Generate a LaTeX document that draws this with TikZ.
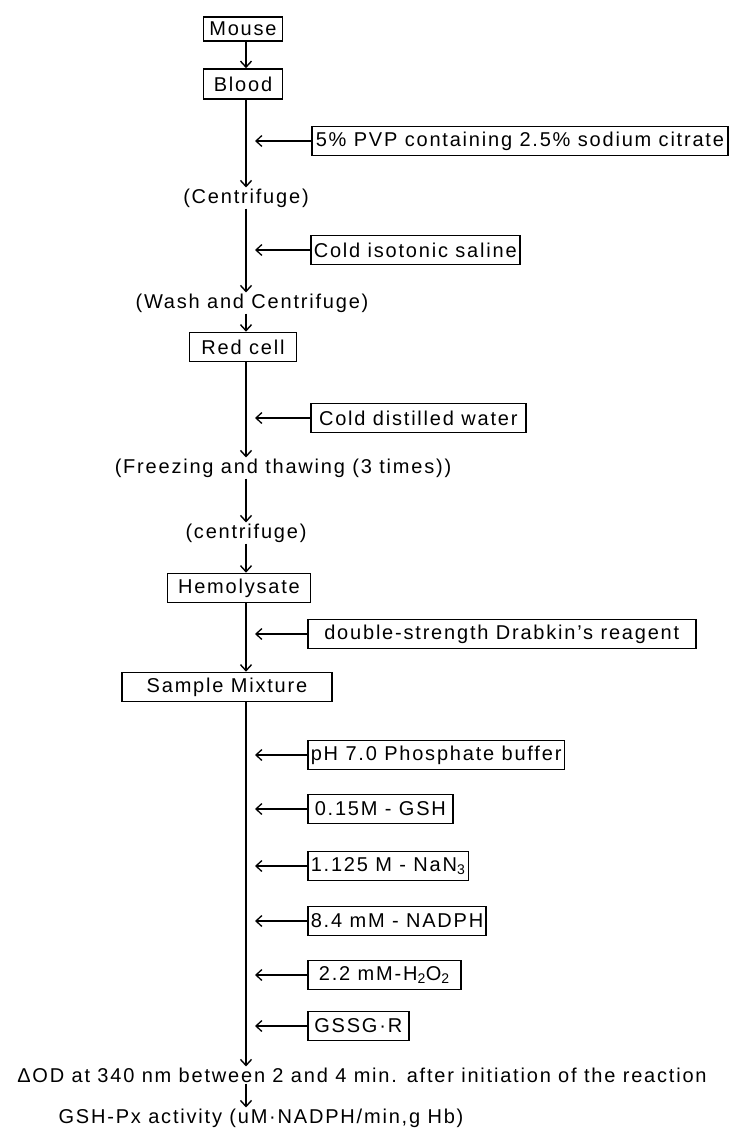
\documentclass[tikz,border=0pt]{standalone}
\usepackage{fontspec}
\setmainfont{Liberation Sans}[LetterSpace=9]
\usetikzlibrary{arrows.meta}
\tikzset{
  >={Straight Barb[length=6pt,width=11pt]},
  stage/.style={draw,line width=1.6pt,minimum height=29pt,inner xsep=5pt,inner ysep=0pt},
  reagent/.style={stage,anchor=west},
  treat/.style={inner sep=1pt},
  flow/.style={->,line width=1.4pt},
  feed/.style={->,line width=1.3pt},
}

\begin{document}
\begin{tikzpicture}[x=1pt,y=-1pt,font=\fontsize{20}{24}\selectfont]
    \useasboundingbox (0,0) rectangle (733,1137);
    \coordinate (spine) at (246,0);
    \coordinate (tip) at (255,0);

    % ------- main column -------
    \node[stage,minimum width=79pt,minimum height=24pt] (mouse) at (243,29) {Mouse};
    \node[stage,minimum width=79pt,minimum height=30pt] (blood) at (243,84) {Blood};
    \node[treat] (cent1) at (246,198) {(Centrifuge)};
    \node[treat] (wash) at (252,303) {(Wash and Centrifuge)};
    \node[stage,minimum width=107pt] (redcell) at (243,347) {Red cell};
    \node[treat] (freeze) at (283,468) {(Freezing and thawing (3 times))};
    \node[treat] (cent2) at (246,533) {(centrifuge)};
    \node[stage,minimum width=143pt] (hemo) at (239,588) {Hemolysate};
    \node[stage,minimum width=210pt] (sample) at (227,687) {Sample Mixture};
    \node[treat] (dod) at (362,1075) {ΔOD at 340 nm between 2 and 4 min. after initiation of the reaction};
    \node[treat] (activity) at (261,1118) {GSH-Px activity (uM·NADPH/min,g Hb)};

    % ------- side reagents -------
    \node[reagent,inner xsep=4pt] (pvp) at (311,141) {5\% PVP containing 2.5\% sodium citrate};
    \node[reagent,inner xsep=3pt,minimum width=208pt] (saline) at (310,250) {Cold isotonic saline};
    \node[reagent,minimum width=215pt] (water) at (310,418) {Cold distilled water};
    \node[reagent,minimum width=388pt] (drabkin) at (307,634) {double-strength Drabkin's reagent};
    \foreach \y/\w/\nm/\txt in {755/253/buffer/{pH 7.0 Phosphate buffer},
                                809/145/gsh/{0.15M - GSH},
                                866/151/azide/{1.125 M - NaN\textsubscript{3}},
                                921/168/nadph/{8.4 mM - NADPH},
                                975/153/peroxide/{2.2 mM-H\textsubscript{2}O\textsubscript{2}},
                                1026/101/gssg/{GSSG·R}} {
        \node[reagent,inner xsep=3pt,minimum width=\w pt] (\nm) at (307,\y) {\txt};
    }

    % ------- flow -------
    \draw[flow] (mouse.south -| spine) -- (blood.north -| spine);
    \draw[flow] (blood.south -| spine) -- (cent1.north -| spine);
    \draw[flow] (cent1.south -| spine) -- (wash.north -| spine);
    \draw[flow] (wash.south -| spine) -- (redcell.north -| spine);
    \draw[flow] (redcell.south -| spine) -- (freeze.north -| spine);
    \draw[flow] (freeze.south -| spine) -- (cent2.north -| spine);
    \draw[flow] (cent2.south -| spine) -- (hemo.north -| spine);
    \draw[flow] (hemo.south -| spine) -- (sample.north -| spine);
    \draw[flow] (sample.south -| spine) -- (dod.north -| spine);
    \draw[flow] (dod.south -| spine) -- (activity.north -| spine);

    \foreach \nm in {pvp,saline,water,drabkin,buffer,gsh,azide,nadph,peroxide,gssg}
        \draw[feed] (\nm.west) -- (\nm.west -| tip);
\end{tikzpicture}
\end{document}
